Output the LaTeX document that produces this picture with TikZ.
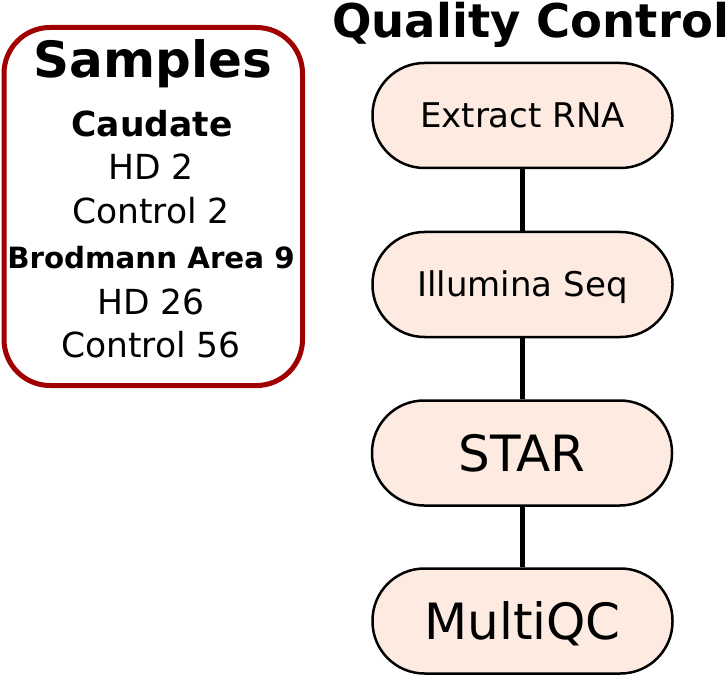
\documentclass[tikz,border=0pt]{standalone}
\usepackage{fontspec}
\setmainfont{DejaVu Sans}
\definecolor{pillfill}{RGB}{253,235,225}
\definecolor{boxred}{RGB}{160,0,0}
\begin{document}
\begin{tikzpicture}[x=1pt,y=-1pt,
  pill/.style={draw=black,line width=2.5pt,fill=pillfill,rounded corners=52pt,
    minimum width=300pt,minimum height=105pt,inner sep=0pt,text depth=0pt},
  smallpill/.style={pill,font=\fontsize{34}{38}\selectfont,text height=24.8pt},
  bigpill/.style={pill,font=\fontsize{50}{54}\selectfont,text height=36.5pt},
  link/.style={line width=4.5pt},
  txt/.style={anchor=base,inner sep=0pt},
  boldtxt/.style={txt,font=\bfseries\fontsize{34.5}{38}\selectfont},
  regtxt/.style={txt,font=\fontsize{34.5}{38}\selectfont}]
\useasboundingbox (0,0) rectangle (728,676);
\draw[boxred,line width=5pt,rounded corners=46pt] (4,27.5) rectangle (302.5,385.5);
\node[txt,font=\bfseries\fontsize{50}{54}\selectfont] (samples) at (153,78) {Samples};
\node[boldtxt] (caudate) at (152,137) {Caudate};
\node[regtxt] (hd2) at (151,180) {HD 2};
\node[regtxt] (ctl2) at (151,224) {Control 2};
\node[txt,font=\bfseries\fontsize{29.3}{32}\selectfont] (ba9) at (151,269) {Brodmann Area 9};
\node[regtxt] (hd26) at (151,315) {HD 26};
\node[regtxt] (ctl56) at (151,357) {Control 56};
\node[txt,font=\bfseries\fontsize{46.5}{50}\selectfont] (qc) at (530.5,38) {Quality Control};
\node[smallpill] (rna) at (522.5,115.5) {Extract RNA};
\node[smallpill] (seq) at (522.5,284.5) {Illumina Seq};
\node[bigpill] (star) at (522,453) {STAR};
\node[bigpill] (mqc) at (522.5,621) {MultiQC};
\draw[link] (rna.south) -- (seq.north);
\draw[link] (seq.south) -- (seq.south |- star.north);
\draw[link] (seq.south |- star.south) -- (mqc.north);
\end{tikzpicture}
\end{document}
